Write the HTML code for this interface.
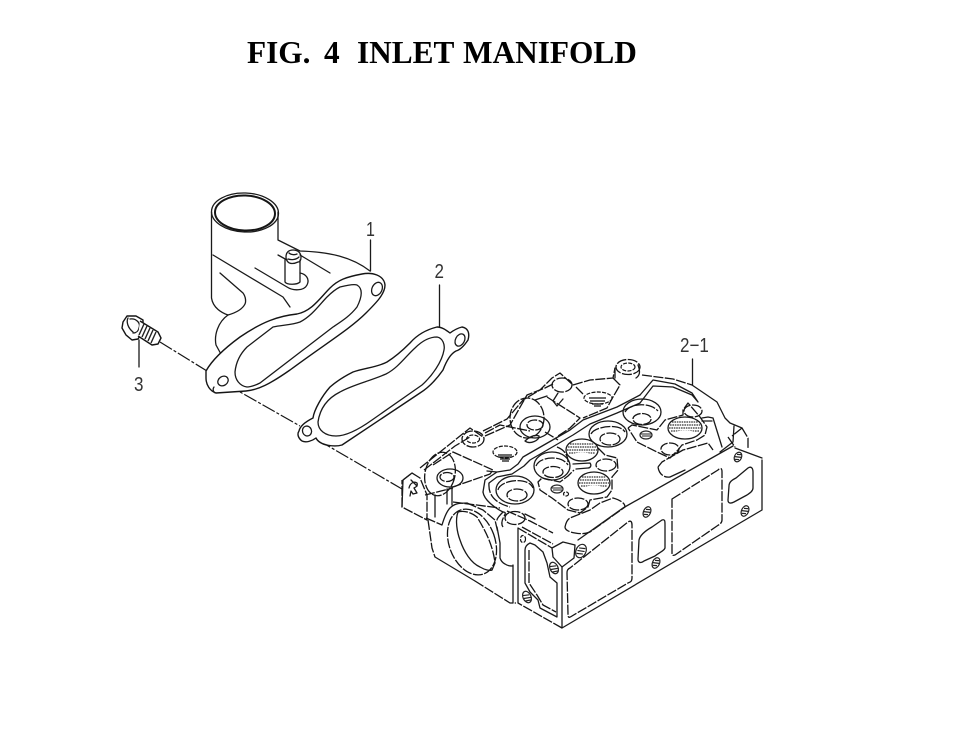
<!DOCTYPE html>
<html><head><meta charset="utf-8">
<style>
html,body{margin:0;padding:0;background:#fff}
svg{display:block}
.k{fill:none;stroke:#1a1a1a;stroke-width:1.3;stroke-linejoin:round;stroke-linecap:round}
.w{fill:#fff;stroke:#151515;stroke-width:1.4;stroke-linejoin:round}
.d{fill:none;stroke:#151515;stroke-width:1.3;stroke-dasharray:10 1.5;stroke-linejoin:round}
.s{fill:none;stroke:#151515;stroke-width:1.2;stroke-dasharray:4 1.3}
.n{font-family:"Liberation Sans",sans-serif;font-size:20px;fill:#333}
.h{fill:none;stroke:#222;stroke-width:1.2}
.th{fill:none;stroke:#333;stroke-width:1.3;stroke-dasharray:1.6 .8}
</style></head><body>
<svg width="979" height="734" viewBox="0 0 979 734" xmlns="http://www.w3.org/2000/svg">
<g font-family="'Liberation Serif',serif" font-weight="bold" font-size="31.300" fill="#000"><text x="247" y="63">FIG.</text><text x="324" y="63">4</text><text x="357" y="63">INLET</text><text x="463" y="63">MANIFOLD</text></g>

<!-- labels -->
<text class="n" transform="translate(366,236) scale(.8,1)">1</text>
<text class="n" transform="translate(434.500,278) scale(.85,1)">2</text>
<text class="n" transform="translate(134,391) scale(.85,1)">3</text>
<text class="n" transform="translate(680,352) scale(.85,1)">2−1</text>
<path class="k" d="M370.500 240V271M439.500 285V327M139 340V367M692.500 359V385"/>

<!-- centre line -->
<path class="s" d="M160 342L207 371M226 384L300 426M318 440L402 489" style="stroke-dasharray:14 2 3 2"/>

<!-- bolt -->
<path class="w" d="M123 322l4-6 9 0 7 4 0 6-2 8-3 5-6 1-6-5-4-7z"/>
<path class="k" d="M128 318c-2 4 0 10 5 14M130 319c6-1 11 4 9 9-1 4-3 5-6 5"/>
<path class="w" d="M140 321L158 332 161 338 158 344 152 345 138 336"/>
<path d="M144 324l-5 11M147 326l-5 11M150 328l-5 11M153 330l-5 11M156 332l-5 11" stroke="#222" stroke-width="1.4"/>

<!-- manifold body -->
<path class="k" d="M211.500 212V298C213 308 222 313 228 315C218 322 214 335 216 345L222 356"/>
<path class="k" d="M278 212V240L300 251C330 252 352 257 370 271"/>
<path class="k" d="M300 255L330 273"/>
<path class="k" d="M213 255L283 297 290 307"/>
<path class="k" d="M220 273L243 293C246 297 246 302 245 304C242 310 235 313 228 315"/>
<path class="k" d="M255 268L287 287C293 291 304 291 307 285C310 279 306 274 300 273"/>
<path class="k" d="M278 255L287 260"/>
<path class="k" d="M285 260V282C287 285 297 285 300 282V260"/>
<path class="k" d="M286 257c0-5 3-7 7-7 5 0 8 3 8 7 0 3-1 5-3 5-4 2-8 2-10 0-1-1-2-3-2-5z"/>
<path class="k" d="M288 259c3 1 8 1 11-2M289 253c2 2 6 2 8 1"/>
<ellipse class="k" cx="245" cy="212.500" rx="33.500" ry="19.500" transform="rotate(2 245 212.500)"/>
<ellipse cx="245" cy="213" rx="30" ry="17.500" fill="#fff" stroke="#151515" stroke-width="2" transform="rotate(2 245 213)"/>

<!-- flange -->
<path class="w" d="M206 371C212 360 225 348 240 337C262 322 278 316 297 314C312 311 320 298 330 288C338 280 346 277 362 274C372 272 384 275 385 285C385 294 376 303 366 313C350 329 325 344 290 370C270 384 258 390 246 391L216 393C210 391 206 385 206 378Z"/>
<path class="k" d="M214 387C212 390 214 393 216 393"/>
<path class="k" d="M235 372C236 362 240 354 247 347L273 327C282 325 292 325 300 322C312 316 320 304 327 297C332 292 336 289 340 287C348 285 354 284 357 285C362 288 363 295 357 307C350 316 342 321 333 327L260 383C254 386 250 387 247 387C240 386 235 380 235 372Z"/>
<ellipse class="k" cx="223" cy="381" rx="5.500" ry="4.500" transform="rotate(-35 223 381)"/>
<ellipse class="k" cx="377" cy="289" rx="5" ry="7" transform="rotate(25 377 289)"/>

<!-- gasket -->
<path class="w" d="M299 431C300 426 305 422 313 418C314 410 322 396 330 387C338 380 345 376 353 372C365 368 378 367 387 362C395 357 404 349 410 343C416 336 425 330 437 327C442 327 446 330 450 333C454 330 458 328 462 327C468 328 470 333 468 340C464 346 460 350 456 351C450 354 446 362 443 370C436 380 428 388 420 393L342 445C335 447 320 446 316 438C312 441 306 443 302 441C298 438 297 434 299 431Z"/>
<path class="k" d="M318 422C320 408 328 398 340 392C352 385 370 381 386 374C398 368 406 356 415 348C422 341 430 337 437 337C443 338 445 345 444 350C442 362 432 376 422 385L372 420C358 430 345 436 336 436C325 436 318 430 318 422Z"/>
<ellipse class="k" cx="460" cy="340" rx="4.500" ry="6.500" transform="rotate(28 460 340)"/>
<ellipse class="k" cx="307" cy="431" rx="4.500" ry="5" transform="rotate(-20 307 431)"/>

<!-- ===== CYLINDER HEAD ===== -->
<!-- left end block -->
<path class="d" d="M403 480L412 473 420 478 427 495V520L402 507V480"/>
<path class="k" d="M402 507L403 480 412 473"/>
<path class="k" d="M409 488c1-5 5-7 8-5 1 3-1 4-3 5l3 5-4 1-2-3-1 5"/>
<path class="k" d="M411 480l6 6"/>
<path class="d" d="M420 468L470 428 483 437"/>
<path class="d" d="M424 470L455 446 470 437"/>
<path class="d" d="M433 465L453 452 493 470 490 474 450 488"/>
<path class="d" d="M425 495L453 488"/>
<path class="k" d="M447 489V504M452 488V505M435 495V517"/>
<path class="d" d="M426 518L442 525"/>
<path class="k" d="M442 525C445 515 448 510 450 508C454 504 458 503 467 503"/>
<path class="d" d="M453 502L500 508"/>
<path class="d" d="M467 503L483 510 495 520 498 533"/>
<path class="k" d="M497 527L500 543V558C501 561 503 563 505 564 508 566 510 566 513 566"/>
<path class="d" d="M428 520L432 548 435 557"/>
<path class="k" d="M435 557L475 581"/>
<path class="d" d="M475 581L510 603 516 603"/>
<path class="k" d="M513 565V603M518 528V603"/>
<ellipse class="d" cx="440" cy="474" rx="15" ry="22" transform="rotate(12 440 474)"/>
<ellipse class="k" cx="450" cy="478" rx="13" ry="9"/>
<ellipse class="d" cx="447" cy="477" rx="7" ry="4.500"/>
<!-- boss 1 -->
<ellipse class="d" cx="473" cy="439" rx="11" ry="8"/>
<ellipse class="s" cx="473" cy="439" rx="6.500" ry="4"/>
<path class="d" d="M483 431L507 419 523 400 540 390 552 378 560 373 573 385"/>
<path class="d" d="M485 436L510 425 527 395 545 388 553 384"/>
<!-- second dashed circle -->
<ellipse class="d" cx="527" cy="418" rx="17" ry="20"/>
<ellipse class="k" cx="535" cy="427" rx="15" ry="11"/>
<ellipse class="d" cx="535" cy="425" rx="8" ry="5"/>
<path class="k" d="M525 441C530 445 540 440 539 436 534 434 528 438 525 441Z"/>
<path class="d" d="M485 433L500 425 530 431M545 432L558 440"/>
<ellipse class="s" cx="505" cy="452" rx="12" ry="6"/>
<path d="M498 455h14M498 457h14M500 459h10M502 461h7" stroke="#111" stroke-width="1.3"/>
<!-- bore -->
<ellipse class="d" cx="472" cy="542" rx="23" ry="34" transform="rotate(-20 472 542)"/>
<path class="k" d="M458 512C455 520 457 532 460 540 464 552 471 563 480 567 485 570 490 571 492 570"/>
<path class="d" d="M458 512C465 510 472 513 477 517 485 530 493 545 495 563L492 570"/>
<!-- boss 2 -->
<ellipse class="d" cx="515" cy="518" rx="10" ry="6.500"/>
<path class="k" d="M503 512C500 515 497 518 497 520M525 514L535 519"/>
<path class="d" d="M503 527C498 520 510 512 503 512"/>
<!-- deck channels -->
<path class="k" d="M487 471L497 472 510 470 518 464 523 457 570 430 583 420 617 407 640 395M483 492L485 480 497 472"/>
<path class="k" d="M489 483L497 477 512 474 524 466 530 460 573 435 590 424 617 413 640 403"/>
<path class="k" d="M483 492C484 500 495 508 503 512"/>
<path class="d" d="M489 483C488 495 495 503 510 507"/>
<path class="d" d="M507 511L530 521 553 533"/>
<!-- box top -->
<path class="d" d="M547 397L580 418 570 428 558 436"/>
<path class="k" d="M535 400L547 396"/>
<ellipse class="d" cx="562" cy="385" rx="10" ry="7"/>
<path class="k" d="M558 393L553 401 557 406 563 399"/>
<!-- top centre recess -->
<path class="d" d="M573 385L590 380 613 378 615 368"/>
<path class="k" d="M615 378V368M638 365C641 373 639 376 636 378"/>
<ellipse class="d" cx="628" cy="367" rx="12" ry="7.500"/>
<ellipse class="s" cx="628" cy="367" rx="7" ry="4"/>
<path class="d" d="M576 387L583 394M613 378L620 385 613 397 607 408 583 418"/>
<ellipse class="s" cx="598" cy="398" rx="14" ry="6"/>
<path d="M589 398h17M590 401h15M592 404h11M594 406h7" stroke="#111" stroke-width="1.2"/>
<!-- right deck line -->
<path class="d" d="M642 375L673 379 692 385"/>
<path class="k" d="M692 385L717 402 725 418 730 423 742 428"/>
<path class="d" d="M742 428L748 438V448"/>
<path class="k" d="M640 395L653 380 675 384 692 393 698 402M640 403L653 386 673 387 692 395 698 402"/>
<!-- ports -->
<ellipse class="k" cx="515" cy="490" rx="19" ry="14"/>
<path class="d" d="M498 490C500 480 528 476 533 488"/>
<ellipse class="d" cx="517" cy="495" rx="10" ry="6"/>
<ellipse class="k" cx="552" cy="466" rx="18" ry="14"/>
<path class="d" d="M536 466C540 456 562 455 568 465"/>
<ellipse class="d" cx="553" cy="472" rx="10" ry="5.500"/>
<ellipse class="k" cx="608" cy="434" rx="19" ry="13"/>
<path class="d" d="M591 434C595 426 620 423 625 432"/>
<ellipse class="d" cx="610" cy="439" rx="10" ry="6"/>
<ellipse class="k" cx="642" cy="412" rx="19" ry="13"/>
<path class="d" d="M625 412C630 403 650 402 658 411"/>
<ellipse class="d" cx="642" cy="419" rx="9" ry="5.500"/>
<!-- threaded holes -->
<g>
<ellipse class="k" cx="582" cy="450" rx="16" ry="11"/>
<ellipse class="k" cx="594" cy="483" rx="16" ry="11"/>
<ellipse class="k" cx="685" cy="428" rx="17" ry="11"/>
<path class="th" d="M570 444H594M568 447H596M567 450H597M569 453H595M582 477H606M580 480H608M579 483H609M581 486H607M672 422H698M670 425H700M669 428H701M671 431H699"/>
<ellipse cx="582" cy="456" rx="11" ry="3.500" fill="#fff"/>
<ellipse cx="594" cy="489" rx="11" ry="3.500" fill="#fff"/>
<ellipse cx="685" cy="434" rx="12" ry="3.500" fill="#fff"/>
</g>
<!-- plate A -->
<path class="d" d="M557 447C565 450 568 456 568 462M598 448L605 455 617 458 618 470 612 477 612 490 607 497 590 500 588 507 580 513 568 510 552 498 540 490 538 482 542 478 560 482 568 476 574 470"/>
<path class="k" d="M573 464L590 463C592 466 590 468 588 468L576 469"/>
<ellipse class="h" cx="557" cy="489" rx="6" ry="4"/>
<path d="M552 488h10M553 490h9" stroke="#222"/>
<ellipse class="s" cx="566" cy="494" rx="2.500" ry="2"/>
<ellipse class="d" cx="578" cy="504" rx="10" ry="6"/>
<ellipse class="d" cx="606" cy="465" rx="10" ry="6"/>
<!-- oval A -->
<path class="d" d="M565 527C566 522 568 519 570 518L590 510 600 503 613 498C620 500 625 503 625 507L590 532C585 534 580 534 575 533 569 532 565 530 565 527Z"/>
<!-- plate B -->
<path class="d" d="M628 428L632 425 657 430 665 420 683 415 683 410 688 403 700 417 707 427 705 435 697 440 682 445 678 450 670 458 657 452 637 442 628 428"/>
<ellipse class="h" cx="646" cy="435" rx="6" ry="4"/>
<path d="M641 434h10M642 436h9" stroke="#222"/>
<ellipse class="d" cx="693" cy="411" rx="9" ry="6"/>
<ellipse class="d" cx="670" cy="449" rx="9" ry="6"/>
<path class="k" d="M702 418L708 417 713 418 722 447"/>
<path class="k" d="M702 421L712 421"/>
<path class="d" d="M658 467L662 462 683 450 708 443 713 450M658 467C659 474 664 478 670 477"/>
<path class="k" d="M670 477L685 470"/>
<path class="k" d="M720 452L733 442 734 426"/>
<path class="d" d="M728 437L735 447M742 428L732 436"/>

<!-- faces -->
<path class="k" d="M762 460V510L562 628V567"/>
<path class="k" d="M735 448L762 458"/>
<path class="k" d="M578 540L623 508 733 446"/>
<path class="k" d="M552 548L563 542 575 545 574 558 562 567 553 557 552 548"/>
<path class="d" d="M518 528L552 548"/>
<path class="d" d="M562 628L518 603"/>
<path class="d" d="M522 527L553 544"/>

<!-- windows -->
<path class="d" d="M567 573C567 570 568 569 570 568L628 522C631 520 632 522 632 525V578C632 581 631 582 628 583L572 616C569 618 568 618 568 614Z"/>
<path class="k" d="M639 540C640 535 645 531 652 527L662 520C665 519 665 521 665 525V548C664 551 660 552 655 556L644 561C640 564 638 562 638 559Z"/>
<path class="d" d="M672 499L718 470C721 467 722 469 722 472V520C722 523 720 524 717 526L675 555C672 556 672 555 672 552Z"/>
<path class="k" d="M729 486C729 482 732 480 736 478L748 468C751 466 753 468 753 472V488C753 491 750 493 747 495L734 502C730 504 728 503 728 500Z"/>
<path class="k" d="M530 543C526 545 525 548 525 550V583L530 592 538 600 540 608 557 617V583L550 577 547 563 543 552 535 545Z"/>
<path class="d" d="M529 550V583L537 595 543 605 556 612"/>

<!-- bolts on faces -->
<g class="h">
<g transform="translate(581 551) rotate(25)"><ellipse rx="5" ry="7"/><path d="M-3 -2L3 -4M-3.500 1L3.500 -1M-3 4L3 2"/></g>
<g transform="translate(647 512) rotate(25)"><ellipse rx="3.500" ry="5.500"/><path d="M-2 -2L2 -3.500M-3 1L3 -1M-2 3.500L2 2"/></g>
<g transform="translate(656 563) rotate(25)"><ellipse rx="3.500" ry="5.500"/><path d="M-2 -2L2 -3.500M-3 1L3 -1M-2 3.500L2 2"/></g>
<g transform="translate(745 511) rotate(25)"><ellipse rx="3.500" ry="5.500"/><path d="M-2 -2L2 -3.500M-3 1L3 -1M-2 3.500L2 2"/></g>
<g transform="translate(738 457) rotate(25)"><ellipse rx="3.500" ry="5"/><path d="M-2 -2L2 -3.500M-3 1L3 -1M-2 3.500L2 2"/></g>
<g transform="translate(554 568) rotate(-25)"><ellipse rx="4" ry="6"/><path d="M-3 -3L3 -1M-3.500 0L3.500 2M-3 3L3 4.500"/></g>
<g transform="translate(527 597) rotate(-25)"><ellipse rx="4" ry="6"/><path d="M-3 -3L3 -1M-3.500 0L3.500 2M-3 3L3 4.500"/></g>
</g>
<ellipse class="s" cx="523" cy="539" rx="2.500" ry="3.500"/>
</svg>
</body></html>
